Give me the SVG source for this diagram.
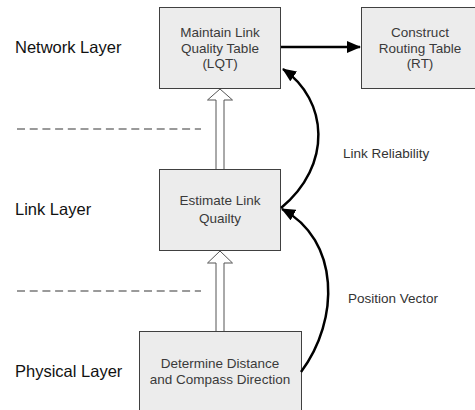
<svg xmlns="http://www.w3.org/2000/svg" width="475" height="410" viewBox="0 0 475 410">
<style>
.box{fill:#ececec;stroke:#404040;stroke-width:1}
.bt{font-family:"Liberation Sans",Arial,sans-serif;font-size:13.5px;fill:#3a3a3a;text-anchor:middle}
.lt{font-family:"Liberation Sans",Arial,sans-serif;font-size:16.5px;fill:#111}
.el{font-family:"Liberation Sans",Arial,sans-serif;font-size:13.5px;fill:#333}
.dash{stroke:#7a7a7a;stroke-width:1.3;stroke-dasharray:8,4.7}
.hollow{fill:#fff;stroke:#555;stroke-width:1}
.curve{fill:none;stroke:#000;stroke-width:2.5}
</style>
<defs>
<marker id="ah2" markerWidth="14" markerHeight="12" refX="13" refY="6" orient="auto" markerUnits="userSpaceOnUse" viewBox="0 0 14 12">
<path d="M0,0 L14,6 L0,12 Z" fill="#000"/>
</marker>
</defs>
<text class="lt" x="15" y="53">Network Layer</text>
<text class="lt" x="15" y="215">Link Layer</text>
<text class="lt" x="15" y="377">Physical Layer</text>
<line class="dash" x1="17" y1="129" x2="201" y2="129"/>
<line class="dash" x1="17" y1="291" x2="201" y2="291"/>
<g id="lqt">
<rect class="box" x="159.5" y="7.5" width="121" height="81"/>
<text class="bt" x="220" y="37">Maintain Link</text>
<text class="bt" x="220" y="52.5">Quality Table</text>
<text class="bt" x="220" y="68">(LQT)</text>
</g>
<g id="rt">
<rect class="box" x="361.5" y="7.5" width="114" height="81"/>
<text class="bt" x="420" y="37">Construct</text>
<text class="bt" x="420" y="52.5">Routing Table</text>
<text class="bt" x="420" y="68">(RT)</text>
</g>
<g id="elq">
<rect class="box" x="159.5" y="169.5" width="121" height="81"/>
<text class="bt" x="220" y="205">Estimate Link</text>
<text class="bt" x="220" y="223">Quailty</text>
</g>
<g id="ddc">
<rect class="box" x="139.5" y="331.5" width="162" height="90"/>
<text class="bt" x="220" y="368">Determine Distance</text>
<text class="bt" x="220" y="384">and Compass Direction</text>
</g>
<g id="connectors">
<path class="hollow" d="M216,169 L216,100 L207.5,100 L220,89 L232.5,100 L224,100 L224,169"/>
<path class="hollow" d="M216,331 L216,263 L207.5,263 L220,251 L232.5,263 L224,263 L224,331"/>
<line x1="281" y1="47" x2="360" y2="47" stroke="#000" stroke-width="2.5" marker-end="url(#ah2)"/>
<path class="curve" d="M301,372 C340,320 340,240 282,209" marker-end="url(#ah2)"/>
<path class="curve" d="M281,208 C333,165 328,100 283,69" marker-end="url(#ah2)"/>
<text class="el" x="343" y="158">Link Reliability</text>
<text class="el" x="348" y="303">Position Vector</text>
</g>
</svg>
